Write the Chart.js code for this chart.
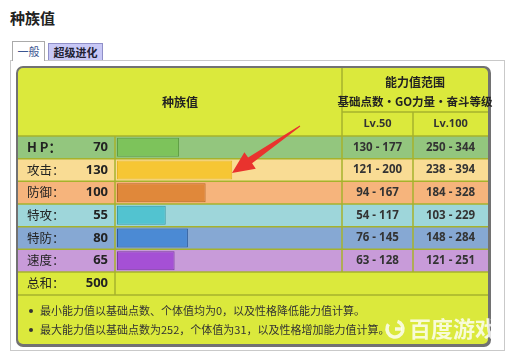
<!DOCTYPE html>
<html>
<head>
<meta charset="utf-8">
<script src="https://cdn.jsdelivr.net/npm/chart.js"></script>
<style>
  body { margin: 0; background: #fff; font-family: "Noto Sans CJK SC", sans-serif; }
  #wrap { position: relative; width: 512px; height: 359px; overflow: hidden; }
  #title { position: absolute; left: 10px; top: 8px; font-size: 15px; font-weight: bold; color: #222; line-height: 20px; }
  .tab { position: absolute; font-size: 11px; line-height: 17px; text-align: center; box-sizing: border-box; }
  #tab1 { left: 12px; top: 41px; width: 33px; height: 20px; border: 1px solid #aaa; border-bottom: none; background: #fff; color: #3b5590; z-index: 2; line-height: 19px; }
  #tab2 { left: 48px; top: 43px; width: 55px; height: 18px; border: 1px solid #8f8fc8; background: #c8c8f6; color: #223; font-weight: bold; }
  #box { position: absolute; left: 10px; top: 60px; width: 495px; height: 291px; border: 1px solid #c9c9c9; box-sizing: border-box; }
  canvas { position: absolute; left: 0; top: 0; }
</style>
</head>
<body>
<div id="wrap">
  <div id="title">种族值</div>
  <div class="tab" id="tab1">一般</div>
  <div class="tab" id="tab2">超级进化</div>
  <div id="box"></div>
  <canvas id="stats" width="512" height="359"></canvas>
</div>
<script>
// base stats
const labels = ['H P：', '攻击：', '防御：', '特攻：', '特防：', '速度：'];
const baseStats = [70, 130, 100, 55, 80, 65];
const lv50 = ['130 - 177', '121 - 200', '94 - 167', '54 - 117', '76 - 145', '63 - 128'];
const lv100 = ['250 - 344', '238 - 394', '184 - 328', '103 - 229', '148 - 284', '121 - 251'];
const totalLabel = '总和：';
const totalValue = 500;
const notes = [
    '最小能力值以基础点数、个体值均为0，以及性格降低能力值计算。',
    '最大能力值以基础点数为252，个体值为31，以及性格增加能力值计算。'
];

const rowColors = ['#93c67e', '#f9dc94', '#f6b47c', '#9ed6da', '#86a8d3', '#c89bd9'];
const barColors = ['#7dc35b', '#f6c634', '#e0883a', '#52c3d0', '#4b8ad4', '#a550d5'];
const barBorders = ['#5e9e44', '#e6b424', '#b8692b', '#3a9ba6', '#2c5c9c', '#7b3aa1'];
const headColor = '#dbe93c';
const lineColor = '#a6b22c';
const cjk = '"Noto Sans CJK SC", sans-serif';

function roundRect(ctx, x, y, w, h, r) {
    ctx.beginPath();
    ctx.moveTo(x + r, y);
    ctx.arcTo(x + w, y, x + w, y + h, r);
    ctx.arcTo(x + w, y + h, x, y + h, r);
    ctx.arcTo(x, y + h, x, y, r);
    ctx.arcTo(x, y, x + w, y, r);
    ctx.closePath();
}

const tablePlugin = {
    id: 'table',
    beforeDatasetsDraw(chart) {
        const ctx = chart.ctx;
        const area = chart.chartArea;
        const yScale = chart.scales.y;
        const band = (area.bottom - area.top) / labels.length;
        const L = 18, R = 488, colA = 115, colB = 342, colC = 413;
        const rowsBottom = area.bottom, totalBottom = area.bottom + 23;

        ctx.save();
        // frame
        roundRect(ctx, 16, 66, 475, 281, 7);
        ctx.fillStyle = '#727272';
        ctx.fill();
        roundRect(ctx, 18, 68, 470, 276, 5);
        ctx.fillStyle = headColor;
        ctx.fill();

        // row backgrounds
        labels.forEach((l, i) => {
            const yc = yScale.getPixelForValue(i);
            ctx.fillStyle = rowColors[i];
            ctx.fillRect(L, yc - band / 2, R - L, band);
        });

        // grid lines
        ctx.strokeStyle = lineColor;
        ctx.lineWidth = 1.5;
        ctx.beginPath();
        ctx.moveTo(L, area.top); ctx.lineTo(R, area.top);
        for (let i = 0; i < labels.length; i++) {
            const yb = yScale.getPixelForValue(i) + band / 2;
            ctx.moveTo(L, yb); ctx.lineTo(R, yb);
        }
        ctx.moveTo(L, totalBottom); ctx.lineTo(R, totalBottom);
        ctx.moveTo(colA, area.top); ctx.lineTo(colA, totalBottom);
        ctx.moveTo(colB, 68); ctx.lineTo(colB, rowsBottom);
        ctx.moveTo(colC, 112); ctx.lineTo(colC, rowsBottom);
        ctx.moveTo(colB, 112); ctx.lineTo(R, 112);
        ctx.stroke();

        // header texts
        ctx.fillStyle = '#222';
        ctx.textBaseline = 'middle';
        ctx.textAlign = 'center';
        ctx.font = 'bold 12px ' + cjk;
        ctx.fillText('种族值', (L + colB) / 2, 102);
        ctx.fillText('能力值范围', (colB + R) / 2, 82);
        ctx.font = 'bold 11.5px ' + cjk;
        ctx.fillText('基础点数・GO力量・奋斗等级', (colB + R) / 2, 102);
        ctx.font = 'bold 11px "Open Sans", sans-serif';
        ctx.fillStyle = '#333';
        ctx.fillText('Lv.50', (colB + colC) / 2, 124);
        ctx.fillText('Lv.100', (colC + R) / 2, 124);

        // row texts
        labels.forEach((l, i) => {
            const yc = yScale.getPixelForValue(i);
            ctx.fillStyle = '#222';
            ctx.textAlign = 'left';
            ctx.font = (i === 0 ? 'bold 13px ' : '12.5px ') + cjk;
            ctx.fillText(l, 27, yc);
            ctx.textAlign = 'right';
            ctx.font = 'bold 13px "Open Sans", sans-serif';
            ctx.fillText(String(baseStats[i]), 108, yc);
            ctx.textAlign = 'center';
            ctx.font = 'bold 11.5px "Open Sans", sans-serif';
            ctx.fillStyle = '#333';
            ctx.fillText(lv50[i], (colB + colC) / 2, yc);
            ctx.fillText(lv100[i], (colC + R) / 2, yc);
        });
        const yt = rowsBottom + 11.5;
        ctx.fillStyle = '#222';
        ctx.textAlign = 'left';
        ctx.font = '12.5px ' + cjk;
        ctx.fillText(totalLabel, 27, yt);
        ctx.textAlign = 'right';
        ctx.font = 'bold 13px "Open Sans", sans-serif';
        ctx.fillText(String(totalValue), 108, yt);

        // notes
        ctx.textAlign = 'left';
        ctx.font = '11px ' + cjk;
        ctx.fillStyle = '#333';
        notes.forEach((n, i) => {
            const y = 311 + i * 19;
            ctx.beginPath();
            ctx.arc(31, y, 2, 0, Math.PI * 2);
            ctx.fill();
            ctx.fillText(n, 40, y);
        });
        ctx.restore();
    },
    afterDraw(chart) {
        const ctx = chart.ctx;
        ctx.save();
        // red arrow
        const tail = {x: 300, y: 126}, tip = {x: 232, y: 173};
        const dx = tip.x - tail.x, dy = tip.y - tail.y;
        const len = Math.hypot(dx, dy);
        const ux = dx / len, uy = dy / len, nx = uy, ny = -ux;
        const headLen = 22, headW = 10;
        const bx = tip.x - ux * headLen, by = tip.y - uy * headLen;
        ctx.fillStyle = '#e9332e';
        ctx.beginPath();
        ctx.moveTo(tail.x + nx * 0.5, tail.y + ny * 0.5);
        ctx.lineTo(bx + nx * 3.5, by + ny * 3.5);
        ctx.lineTo(bx + nx * headW, by + ny * headW);
        ctx.lineTo(tip.x, tip.y);
        ctx.lineTo(bx - nx * headW, by - ny * headW);
        ctx.lineTo(bx - nx * 3.5, by - ny * 3.5);
        ctx.lineTo(tail.x - nx * 0.5, tail.y - ny * 0.5);
        ctx.closePath();
        ctx.fill();

        // watermark
        ctx.globalAlpha = 0.8;
        ctx.strokeStyle = '#fff';
        ctx.lineWidth = 3.5;
        ctx.beginPath();
        ctx.arc(395, 329, 8, Math.PI * 1.6, Math.PI * 1.2);
        ctx.stroke();
        ctx.beginPath();
        ctx.moveTo(395, 329); ctx.lineTo(402, 329);
        ctx.stroke();
        ctx.fillStyle = '#fff';
        ctx.font = 'bold 22px ' + cjk;
        ctx.textAlign = 'left';
        ctx.textBaseline = 'middle';
        ctx.fillText('百度游戏', 409, 329);
        ctx.restore();
    }
};

const chart = new Chart(document.getElementById('stats'), {
    type: 'bar',
    data: {
        labels: labels,
        datasets: [{
            data: baseStats,
            backgroundColor: barColors,
            borderColor: barBorders,
            borderWidth: 1,
            borderSkipped: false,
            categoryPercentage: 1,
            barPercentage: 0.84
        }]
    },
    options: {
        indexAxis: 'y',
        responsive: false,
        animation: false,
        devicePixelRatio: 1,
        layout: {padding: {left: 117, right: 169, top: 136, bottom: 87}},
        scales: {
            x: {display: false, min: 0, max: 255},
            y: {display: false}
        },
        plugins: {
            legend: {display: false},
            tooltip: {enabled: false}
        }
    },
    plugins: [tablePlugin]
});
</script>
</body>
</html>
